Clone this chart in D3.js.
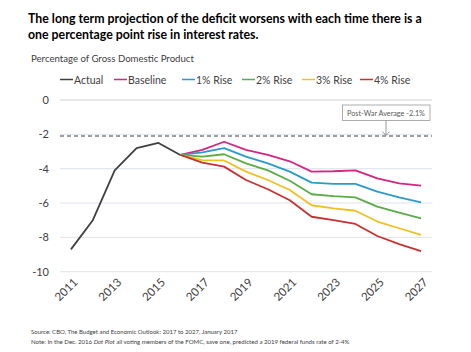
<!DOCTYPE html>
<html><head><meta charset="utf-8">
<script src="https://cdn.jsdelivr.net/npm/d3@7"></script>
<style>
html,body{margin:0;padding:0;background:#fff;}
svg{display:block;font-family:Lato,"Open Sans",sans-serif;}
</style></head>
<body>
<svg id="c" width="471" height="352"></svg>
<script>
const years = ["2011","2012","2013","2014","2015","2016","2017","2018","2019","2020","2021","2022","2023","2024","2025","2026","2027"];
const tickYears = ["2011","2013","2015","2017","2019","2021","2023","2025","2027"];
const yTicks = [0,-2,-4,-6,-8,-10];
const actualYears = ["2011","2012","2013","2014","2015","2016"];
const actual = [-8.7,-7.0,-4.1,-2.8,-2.5,-3.2];
const projYears = ["2016","2017","2018","2019","2020","2021","2022","2023","2024","2025","2026","2027"];
const baseline = [-3.2,-2.9,-2.43,-2.91,-3.2,-3.57,-4.17,-4.15,-4.1,-4.56,-4.85,-4.99];
const rise1 = [-3.2,-3.05,-2.8,-3.3,-3.69,-4.17,-4.81,-4.89,-4.89,-5.34,-5.67,-5.96];
const rise2 = [-3.2,-3.3,-3.16,-3.69,-4.1,-4.7,-5.49,-5.6,-5.67,-6.21,-6.56,-6.89];
const rise3 = [-3.2,-3.5,-3.52,-4.17,-4.66,-5.24,-6.13,-6.31,-6.45,-7.08,-7.47,-7.86];
const rise4 = [-3.2,-3.65,-3.88,-4.66,-5.2,-5.84,-6.8,-6.99,-7.22,-7.92,-8.39,-8.8];
const seriesNames = ["Actual","Baseline","1% Rise","2% Rise","3% Rise","4% Rise"];
const seriesColors = ["#404040","#d6247f","#2a9bc9","#5aac45","#f0c020","#c8302f"];
const postWarAvg = -2.1;

const svg = d3.select("#c");
const x = d3.scalePoint().domain(years).range([60,432]).padding(0.5);
const y = d3.scaleLinear().domain([-10,0]).range([271.7,100]);

function fitFont(sel, width, start){
  sel.attr("font-size", start);
  const w = sel.node().getComputedTextLength();
  sel.attr("font-size", start*width/w);
}

// Title
const t1 = svg.append("text").attr("x",28).attr("y",23).attr("font-weight","bold").attr("fill","#000")
  .text("The long term projection of the deficit worsens with each time there is a");
fitFont(t1, 394, 13);
const t2 = svg.append("text").attr("x",28).attr("y",39).attr("font-weight","bold").attr("fill","#000")
  .attr("font-size", t1.attr("font-size"))
  .text("one percentage point rise in interest rates.");

const sub = svg.append("text").attr("x",31).attr("y",62).attr("fill","#404040")
  .text("Percentage of Gross Domestic Product");
fitFont(sub, 163, 9.5);

// Legend
const legX = [60,114,182,242,302,360];
seriesNames.forEach((n,i)=>{
  const g = svg.append("g").attr("transform",`translate(${legX[i]},80)`);
  g.append("line").attr("x1",0).attr("x2",13).attr("y1",-0.5).attr("y2",-0.5)
    .attr("stroke",seriesColors[i]).attr("stroke-width",1.5);
  g.append("text").attr("x",14).attr("y",3.5).attr("font-size",10.5).attr("fill","#404040").text(n);
});

// Gridlines
svg.append("g").selectAll("line").data(yTicks).join("line")
  .attr("x1",60).attr("x2",432).attr("y1",d=>y(d)).attr("y2",d=>y(d))
  .attr("stroke",d=>d===0?"#cfcfcf":"#dde3ee").attr("stroke-width",1);

// Y axis labels
const yAxis = d3.axisLeft(y).tickValues(yTicks).tickSize(0).tickPadding(11).tickFormat(d=>String(d));
const ya = svg.append("g").attr("transform","translate(60,0)").call(yAxis);
ya.select(".domain").remove();
ya.selectAll("text").attr("font-size",11).attr("fill","#404040").attr("font-family","Lato,sans-serif");

// X axis labels
const xAxis = d3.axisBottom(x).tickValues(tickYears).tickSize(0);
const xa = svg.append("g").attr("transform","translate(0,272)").call(xAxis);
xa.select(".domain").remove();
xa.selectAll("text").attr("font-size",11.5).attr("fill","#404040").attr("font-family","Lato,sans-serif")
  .attr("text-anchor","end").attr("dy",0).attr("y",0)
  .attr("transform","translate(7,11) rotate(-45)");

// Dashed post-war average
svg.append("line").attr("x1",60).attr("x2",432).attr("y1",y(postWarAvg)).attr("y2",y(postWarAvg))
  .attr("stroke","#7f7f7f").attr("stroke-width",1.5).attr("stroke-dasharray","4,3");

// Lines
const line = d3.line().x(d=>x(d[0])).y(d=>y(d[1]));
const allSeries = [
  [actualYears, actual],
  [projYears, baseline],
  [projYears, rise1],
  [projYears, rise2],
  [projYears, rise3],
  [projYears, rise4]
];
allSeries.forEach((s,i)=>{
  svg.append("path").datum(s[0].map((yr,j)=>[yr,s[1][j]]))
    .attr("d",line).attr("fill","none").attr("stroke",seriesColors[i]).attr("stroke-width",1.8)
    .attr("stroke-linejoin","round");
});

// Annotation
svg.append("rect").attr("x",342.5).attr("y",105).attr("width",87.5).attr("height",15.5)
  .attr("fill","#fff").attr("stroke","#9a9a9a").attr("stroke-width",0.8);
const ann = svg.append("text").attr("x",386).attr("y",115.5).attr("text-anchor","middle")
  .attr("fill","#595959").text("Post-War Average -2.1%");
fitFont(ann, 78, 7.5);
svg.append("line").attr("x1",386).attr("x2",386).attr("y1",120.5).attr("y2",y(postWarAvg)-1)
  .attr("stroke","#7f7f7f").attr("stroke-width",0.8);
svg.append("path").attr("d",`M382.5,${y(postWarAvg)-4.5} L386,${y(postWarAvg)-0.5} L389.5,${y(postWarAvg)-4.5}`)
  .attr("fill","none").attr("stroke","#7f7f7f").attr("stroke-width",0.8);

// Footer
const src = svg.append("text").attr("x",31).attr("y",334).attr("fill","#404040")
  .text("Source: CBO, The Budget and Economic Outlook: 2017 to 2027, January 2017");
fitFont(src, 207, 6.5);
const note = svg.append("text").attr("x",31).attr("y",344).attr("fill","#404040");
note.append("tspan").text("Note: In the Dec. 2016 ");
note.append("tspan").attr("font-style","italic").text("Dot Plot");
note.append("tspan").text(" all voting members of the FOMC, save one, predicted a 2019 federal funds rate of 2-4%");
fitFont(note, 319, 6.5);
</script>
</body></html>
